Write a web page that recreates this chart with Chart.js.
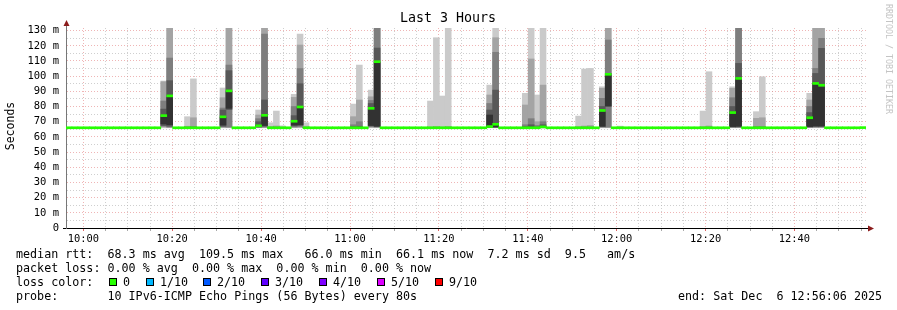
<!DOCTYPE html>
<html>
<head>
<meta charset="utf-8">
<script src="https://cdn.jsdelivr.net/npm/chart.js@4.4.1/dist/chart.umd.min.js"></script>
<style>
  body { margin: 0; background: #fff; }
  #wrap { position: relative; width: 897px; height: 310px; background: #fff; }
  #chart_rtt { position: absolute; left: 0; top: 0; }
  .leg { position: absolute; left: 16px; font: 11.7px 'DejaVu Sans Mono', monospace; line-height: 14px; white-space: pre; color: #000; }
  .box { position: absolute; top: 278px; width: 6px; height: 6px; border: 1px solid #000; }
</style>
</head>
<body>
<div id="wrap">
  <canvas id="chart_rtt" width="897" height="310"></canvas>
  <div class="leg" style="top:247px">median rtt:  68.3 ms avg  109.5 ms max   66.0 ms min  66.1 ms now  7.2 ms sd  9.5   am/s</div>
  <div class="leg" style="top:261px">packet loss: 0.00 % avg  0.00 % max  0.00 % min  0.00 % now</div>
  <div class="leg" style="top:275px">loss color:</div>
  <div id="loss_legend"></div>
  <div class="leg" style="top:289px">probe:       10 IPv6-ICMP Echo Pings (56 Bytes) every 80s</div>
  <div class="leg" style="top:289px; left:678px">end: Sat Dec  6 12:56:06 2025</div>
</div>
<script>
// time axis: minutes relative to 10:00, one step = one probe round (80 s)
const startMinute = -3.9;          // 09:56:06
const stepMinutes = 80 / 60;

// median rtt per step (ms), 135 steps
const medianRtt = [
    66.0, 66.0, 66.0, 66.0, 66.0, 66.0, 66.0, 66.0, 66.0, 66.0, 66.0, 66.0, 66.0, 66.0, 66.0,
    66.0, 74.0, 87.0, 66.0, 66.0, 66.0, 66.0, 66.0, 66.0, 66.0, 66.0, 73.2, 90.3, 66.0, 66.0,
    66.0, 66.0, 67.3, 74.2, 66.0, 66.0, 66.0, 66.0, 70.3, 79.7, 66.0, 66.0, 66.0, 66.0, 66.0,
    66.0, 66.0, 66.0, 66.0, 66.0, 66.0, 78.8, 109.5, 66.0, 66.0, 66.0, 66.0, 66.0, 66.0, 66.0,
    66.0, 66.0, 66.0, 66.0, 66.0, 66.0, 66.0, 66.0, 66.0, 66.0, 66.0, 66.8, 68.3, 66.0, 66.0,
    66.0, 66.0, 66.0, 66.0, 66.0, 66.6, 66.0, 66.0, 66.0, 66.0, 66.0, 66.0, 66.0, 66.0, 66.0,
    77.4, 101.2, 66.0, 66.0, 66.0, 66.0, 66.0, 66.0, 66.0, 66.0, 66.0, 66.0, 66.0, 66.0, 66.0,
    66.0, 66.0, 66.0, 66.0, 66.0, 66.0, 66.0, 76.0, 98.5, 66.0, 66.0, 66.0, 66.0, 66.0, 66.0,
    66.0, 66.0, 66.0, 66.0, 66.0, 72.6, 95.2, 94.0, 66.0, 66.0, 66.0, 66.0, 66.0, 66.0, 66.1
];

// steps where the 10 pings spread out, with their sorted values (ms)
const smokeSteps = [16, 17, 20, 21, 26, 27, 32, 33, 34, 35, 36, 38, 39, 40, 48, 49, 51, 52,
    61, 62, 63, 64, 71, 72, 77, 78, 79, 80, 86, 87, 88, 90, 91, 93, 107, 108, 112, 113, 116, 117,
    125, 126, 127];
const smokePings = [
    [66.0, 66.5, 67.0, 67.5, 68.5, 73.0, 78.3, 83.6, 96.3, 96.8],
    [66.0, 66.2, 66.5, 67.0, 68.0, 86.0, 97.0, 111.9, 140.0, 145.0],
    [66.0, 66.0, 66.0, 66.0, 66.0, 66.1, 66.2, 66.5, 67.0, 73.3],
    [66.0, 66.0, 66.0, 66.0, 66.0, 66.1, 66.3, 66.8, 72.6, 98.2],
    [66.0, 66.3, 66.6, 67.0, 67.8, 72.8, 77.7, 79.0, 85.8, 92.2],
    [66.0, 66.2, 66.5, 78.0, 78.8, 89.7, 103.6, 107.3, 140.0, 145.0],
    [66.0, 66.1, 66.3, 66.6, 66.9, 67.6, 70.0, 72.0, 74.4, 77.7],
    [66.0, 66.2, 66.5, 67.0, 67.5, 73.8, 84.3, 127.7, 138.0, 142.0],
    [66.0, 66.0, 66.0, 66.0, 66.0, 66.1, 66.2, 66.4, 66.8, 69.3],
    [66.0, 66.0, 66.0, 66.0, 66.0, 66.1, 66.2, 66.5, 67.2, 77.0],
    [66.0, 66.0, 66.0, 66.0, 66.0, 66.0, 66.1, 66.2, 66.4, 67.3],
    [66.0, 66.2, 66.6, 67.2, 67.8, 70.8, 74.0, 80.0, 86.0, 88.0],
    [66.0, 66.3, 66.8, 67.5, 68.0, 79.2, 95.0, 105.0, 120.5, 127.7],
    [66.0, 66.0, 66.0, 66.0, 66.0, 66.0, 66.1, 66.3, 67.0, 69.3],
    [66.0, 66.0, 66.0, 66.0, 66.0, 66.2, 66.8, 68.0, 73.3, 81.6],
    [66.0, 66.0, 66.0, 66.0, 66.0, 66.3, 67.0, 70.0, 84.3, 107.3],
    [66.0, 66.3, 66.8, 67.2, 67.5, 78.3, 82.0, 84.0, 86.4, 90.8],
    [66.0, 66.2, 66.5, 66.8, 67.0, 109.0, 118.5, 135.0, 140.0, 145.0],
    [66.0, 66.0, 66.0, 66.0, 66.0, 66.0, 66.1, 66.2, 66.5, 83.6],
    [66.0, 66.0, 66.0, 66.0, 66.0, 66.1, 66.2, 66.4, 66.8, 125.3],
    [66.0, 66.0, 66.0, 66.0, 66.0, 66.0, 66.1, 66.2, 66.5, 86.9],
    [66.0, 66.0, 66.0, 66.0, 66.0, 66.1, 66.2, 66.4, 66.8, 140.0],
    [66.0, 66.1, 66.2, 66.4, 66.6, 74.4, 77.7, 82.0, 87.6, 94.1],
    [66.0, 66.1, 66.2, 66.4, 66.6, 68.8, 90.8, 115.7, 125.3, 140.0],
    [66.0, 66.0, 66.0, 66.0, 66.0, 66.2, 66.8, 68.0, 81.0, 88.7],
    [66.0, 66.0, 66.0, 66.0, 66.2, 66.5, 68.0, 72.0, 111.3, 138.0],
    [66.0, 66.0, 66.0, 66.0, 66.0, 66.2, 66.5, 67.5, 70.0, 87.6],
    [66.0, 66.0, 66.0, 66.2, 66.5, 67.0, 68.0, 70.0, 94.1, 140.0],
    [66.0, 66.0, 66.0, 66.0, 66.0, 66.0, 66.1, 66.3, 66.8, 73.7],
    [66.0, 66.0, 66.0, 66.0, 66.0, 66.1, 66.2, 66.5, 67.2, 104.7],
    [66.0, 66.0, 66.0, 66.0, 66.0, 66.1, 66.2, 66.5, 67.5, 105.1],
    [66.0, 66.2, 66.5, 66.8, 67.0, 76.5, 80.0, 85.4, 92.0, 93.0],
    [66.0, 66.2, 66.5, 80.2, 80.3, 100.5, 101.8, 123.8, 138.0, 142.0],
    [66.0, 66.0, 66.0, 66.0, 66.0, 66.0, 66.1, 66.2, 66.4, 67.1],
    [66.0, 66.0, 66.0, 66.0, 66.0, 66.0, 66.1, 66.3, 66.8, 77.0],
    [66.0, 66.0, 66.0, 66.0, 66.0, 66.1, 66.2, 66.5, 67.2, 102.9],
    [66.0, 66.2, 66.4, 66.6, 66.8, 75.2, 80.0, 85.8, 92.0, 93.0],
    [66.0, 66.2, 66.4, 66.6, 67.0, 97.9, 108.4, 135.0, 138.0, 142.0],
    [66.0, 66.0, 66.0, 66.0, 66.0, 66.1, 66.3, 66.8, 72.2, 76.6],
    [66.0, 66.0, 66.0, 66.0, 66.0, 66.1, 66.3, 66.8, 72.6, 99.6],
    [66.0, 66.2, 66.4, 66.6, 66.8, 72.3, 76.0, 80.0, 84.3, 88.7],
    [66.0, 66.2, 66.5, 66.8, 67.2, 95.0, 101.8, 105.1, 136.0, 140.0],
    [66.0, 66.2, 66.5, 66.8, 67.2, 93.0, 118.3, 124.9, 136.0, 140.0]
];

// ticks
const yTickValues = [0, 5, 10, 15, 20, 25, 30, 35, 40, 45, 50, 55, 60, 65, 70, 75, 80, 85, 90, 95, 100, 105, 110, 115, 120, 125, 130];
const xTickMinutes = [0, 5, 10, 15, 20, 25, 30, 35, 40, 45, 50, 55, 60, 65, 70, 75, 80, 85, 90,
    95, 100, 105, 110, 115, 120, 125, 130, 135, 140, 145, 150, 155, 160, 165, 170, 175];

// legend
const lossLabels = ['0', '1/10', '2/10', '3/10', '4/10', '5/10', '9/10'];
const lossColors = ['#26ff00', '#00b8ff', '#0059ff', '#5e00ff', '#7e00ff', '#dd00ff', '#ff0000'];
const lossBoxX = [109, 146, 203, 261, 319, 377, 435];

const smokeColors = ['#cacaca', '#a4a4a4', '#7e7e7e', '#585858', '#323232'];
const gridColor = 'rgba(175,175,175,0.6)';
const mgridColor = 'rgba(225,120,120,0.55)';
const monoFont = "'DejaVu Sans Mono', monospace";

function stepCenter(k) {
    return startMinute + (k + 0.5) * stepMinutes;
}

function timeLabel(v) {
    const h = 10 + Math.floor(v / 60);
    const m = v % 60;
    return h + ':' + (m < 10 ? '0' : '') + m;
}

const lossLegend = document.getElementById('loss_legend');
lossLabels.forEach((label, i) => {
    const box = document.createElement('div');
    box.className = 'box';
    box.style.left = lossBoxX[i] + 'px';
    box.style.background = lossColors[i];
    lossLegend.appendChild(box);
    const txt = document.createElement('div');
    txt.className = 'leg';
    txt.style.top = '275px';
    txt.style.left = (lossBoxX[i] + 14) + 'px';
    txt.textContent = label;
    lossLegend.appendChild(txt);
});

const datasets = [];
datasets.push({
    label: 'median rtt',
    order: 0,
    backgroundColor: lossColors[0],
    data: medianRtt.map((m, k) => ({ x: stepCenter(k), y: [m - 0.66, m + 0.66] }))
});
smokeColors.forEach((color, i) => {
    datasets.push({
        label: 'smoke ' + i,
        order: 5 - i,
        backgroundColor: color,
        data: smokeSteps.map((k, j) => ({ x: stepCenter(k), y: [smokePings[j][i], smokePings[j][9 - i]] }))
    });
});

const extras = {
    id: 'extras',
    afterDraw(chart) {
        const ctx = chart.ctx;
        const a = chart.chartArea;
        ctx.save();
        ctx.fillStyle = '#000';
        ctx.font = '13.3px ' + monoFont;
        ctx.textAlign = 'center';
        ctx.textBaseline = 'middle';
        ctx.fillText('Last 3 Hours', 448, 19);

        ctx.font = '11.5px ' + monoFont;
        ctx.translate(11, 126);
        ctx.rotate(-Math.PI / 2);
        ctx.fillText('Seconds', 0, 0);
        ctx.restore();

        ctx.save();
        ctx.fillStyle = '#c4c4c4';
        ctx.font = '8.3px ' + monoFont;
        ctx.textAlign = 'center';
        ctx.textBaseline = 'middle';
        ctx.translate(888, 59);
        ctx.rotate(Math.PI / 2);
        ctx.fillText('RRDTOOL / TOBI OETIKER', 0, 0);
        ctx.restore();

        // axis extensions and arrows
        ctx.save();
        ctx.strokeStyle = '#777';
        ctx.lineWidth = 1;
        ctx.beginPath();
        ctx.moveTo(a.left + 0.5, a.top);
        ctx.lineTo(a.left + 0.5, a.top - 3);
        ctx.stroke();
        ctx.strokeStyle = '#000';
        ctx.beginPath();
        ctx.moveTo(a.right, a.bottom + 0.5);
        ctx.lineTo(a.right + 3, a.bottom + 0.5);
        ctx.stroke();
        ctx.fillStyle = '#8b1c1c';
        ctx.beginPath();
        ctx.moveTo(a.left + 0.5, a.top - 8);
        ctx.lineTo(a.left - 2.5, a.top - 2);
        ctx.lineTo(a.left + 3.5, a.top - 2);
        ctx.closePath();
        ctx.fill();
        ctx.beginPath();
        ctx.moveTo(a.right + 8, a.bottom + 0.5);
        ctx.lineTo(a.right + 2, a.bottom - 2.5);
        ctx.lineTo(a.right + 2, a.bottom + 3.5);
        ctx.closePath();
        ctx.fill();
        ctx.restore();
    }
};

document.chartRtt = new Chart(document.getElementById('chart_rtt'), {
    type: 'bar',
    data: { datasets: datasets },
    options: {
        responsive: false,
        animation: false,
        events: [],
        layout: { padding: { top: 28, right: 31, bottom: 0, left: 0 } },
        datasets: {
            bar: { grouped: false, barPercentage: 1, categoryPercentage: 1, borderWidth: 0 }
        },
        scales: {
            x: {
                type: 'linear',
                offset: false,
                min: startMinute,
                max: startMinute + 135 * stepMinutes,
                z: 1,
                afterFit: s => { s.height = 82; },
                afterBuildTicks: s => { s.ticks = xTickMinutes.map(v => ({ value: v })); },
                ticks: {
                    autoSkip: false,
                    maxRotation: 0,
                    padding: 2,
                    color: '#000',
                    font: { family: monoFont, size: 10.4 },
                    callback: v => (v % 20 === 0 ? timeLabel(v) : '')
                },
                grid: {
                    offset: false,
                    color: c => (c.tick && c.tick.value % 20 === 0 ? mgridColor : gridColor),
                    tickColor: c => (c.tick && c.tick.value % 20 === 0 ? '#d66' : '#aaa'),
                    tickLength: 3
                },
                border: { color: '#000', dash: [1, 2] }
            },
            y: {
                min: 0,
                max: 131.7,
                z: 1,
                afterFit: s => { s.width = 66; },
                afterBuildTicks: s => { s.ticks = yTickValues.map(v => ({ value: v })); },
                ticks: {
                    autoSkip: false,
                    padding: 4,
                    color: '#000',
                    font: { family: monoFont, size: 10.5 },
                    callback: v => (v === 0 ? '0' : (v % 10 === 0 ? v + ' m' : ''))
                },
                grid: {
                    color: c => (c.tick && c.tick.value % 10 === 0 ? mgridColor : gridColor),
                    tickColor: c => (c.tick && c.tick.value === 0 ? '#000' : 'rgba(0,0,0,0)'),
                    tickLength: 3
                },
                border: { color: '#777', dash: [1, 2] }
            }
        },
        plugins: {
            legend: { display: false },
            tooltip: { enabled: false }
        }
    },
    plugins: [extras]
});
</script>
</body>
</html>
